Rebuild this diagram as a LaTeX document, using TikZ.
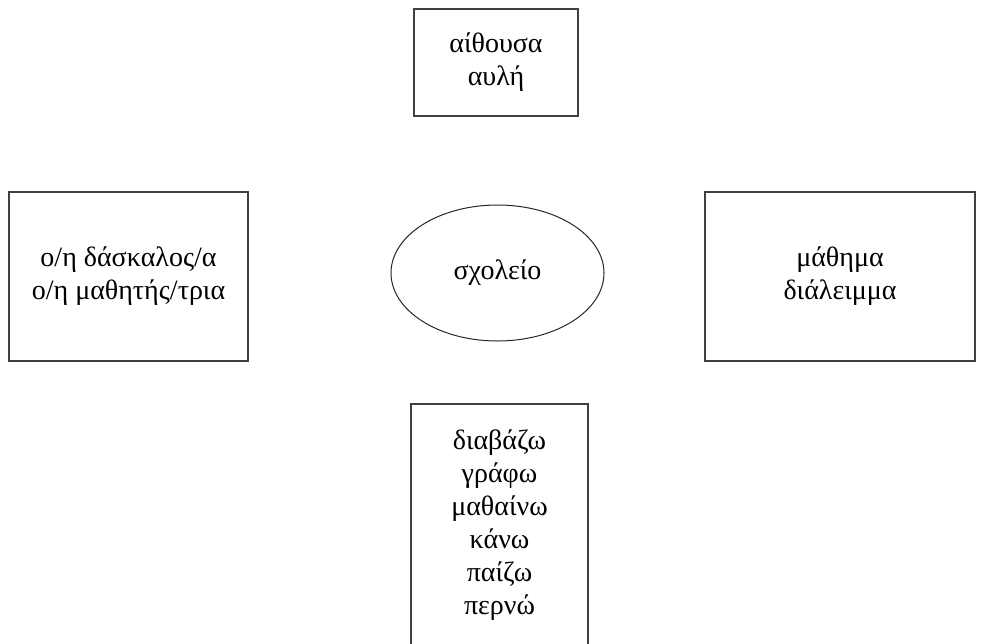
\documentclass[tikz,border=0pt]{standalone}
\usepackage{fontspec}
\setmainfont{Liberation Serif}
\usetikzlibrary{shapes.geometric}
\begin{document}
\begin{tikzpicture}[x=1pt,y=-1pt,
  every node/.style={font=\fontsize{28}{33}\selectfont, align=center, inner sep=0pt},
  wordbox/.style={draw=black!75, line width=1.1pt, rectangle},
  hub/.style={draw=black!85, line width=1pt, ellipse}]
  \useasboundingbox (0,0) rectangle (984,643);
  % central topic
  \node[hub, minimum width=213, minimum height=136] (school) at (497.5,273) {σχολείο};
  % surrounding word groups
  \node[wordbox, minimum width=164, minimum height=107] (place) at (496,62.5) {αίθουσα\\αυλή};
  \node[wordbox, minimum width=239, minimum height=169] (people) at (128.5,276.5) {ο/η δάσκαλος/α\\ο/η μαθητής/τρια};
  \node[wordbox, minimum width=270, minimum height=169] (time) at (840,276.5) {μάθημα\\διάλειμμα};
  \node[wordbox, minimum width=177, minimum height=243] (verbs) at (499.5,525.5) {διαβάζω\\γράφω\\μαθαίνω\\κάνω\\παίζω\\περνώ};
\end{tikzpicture}
\end{document}
